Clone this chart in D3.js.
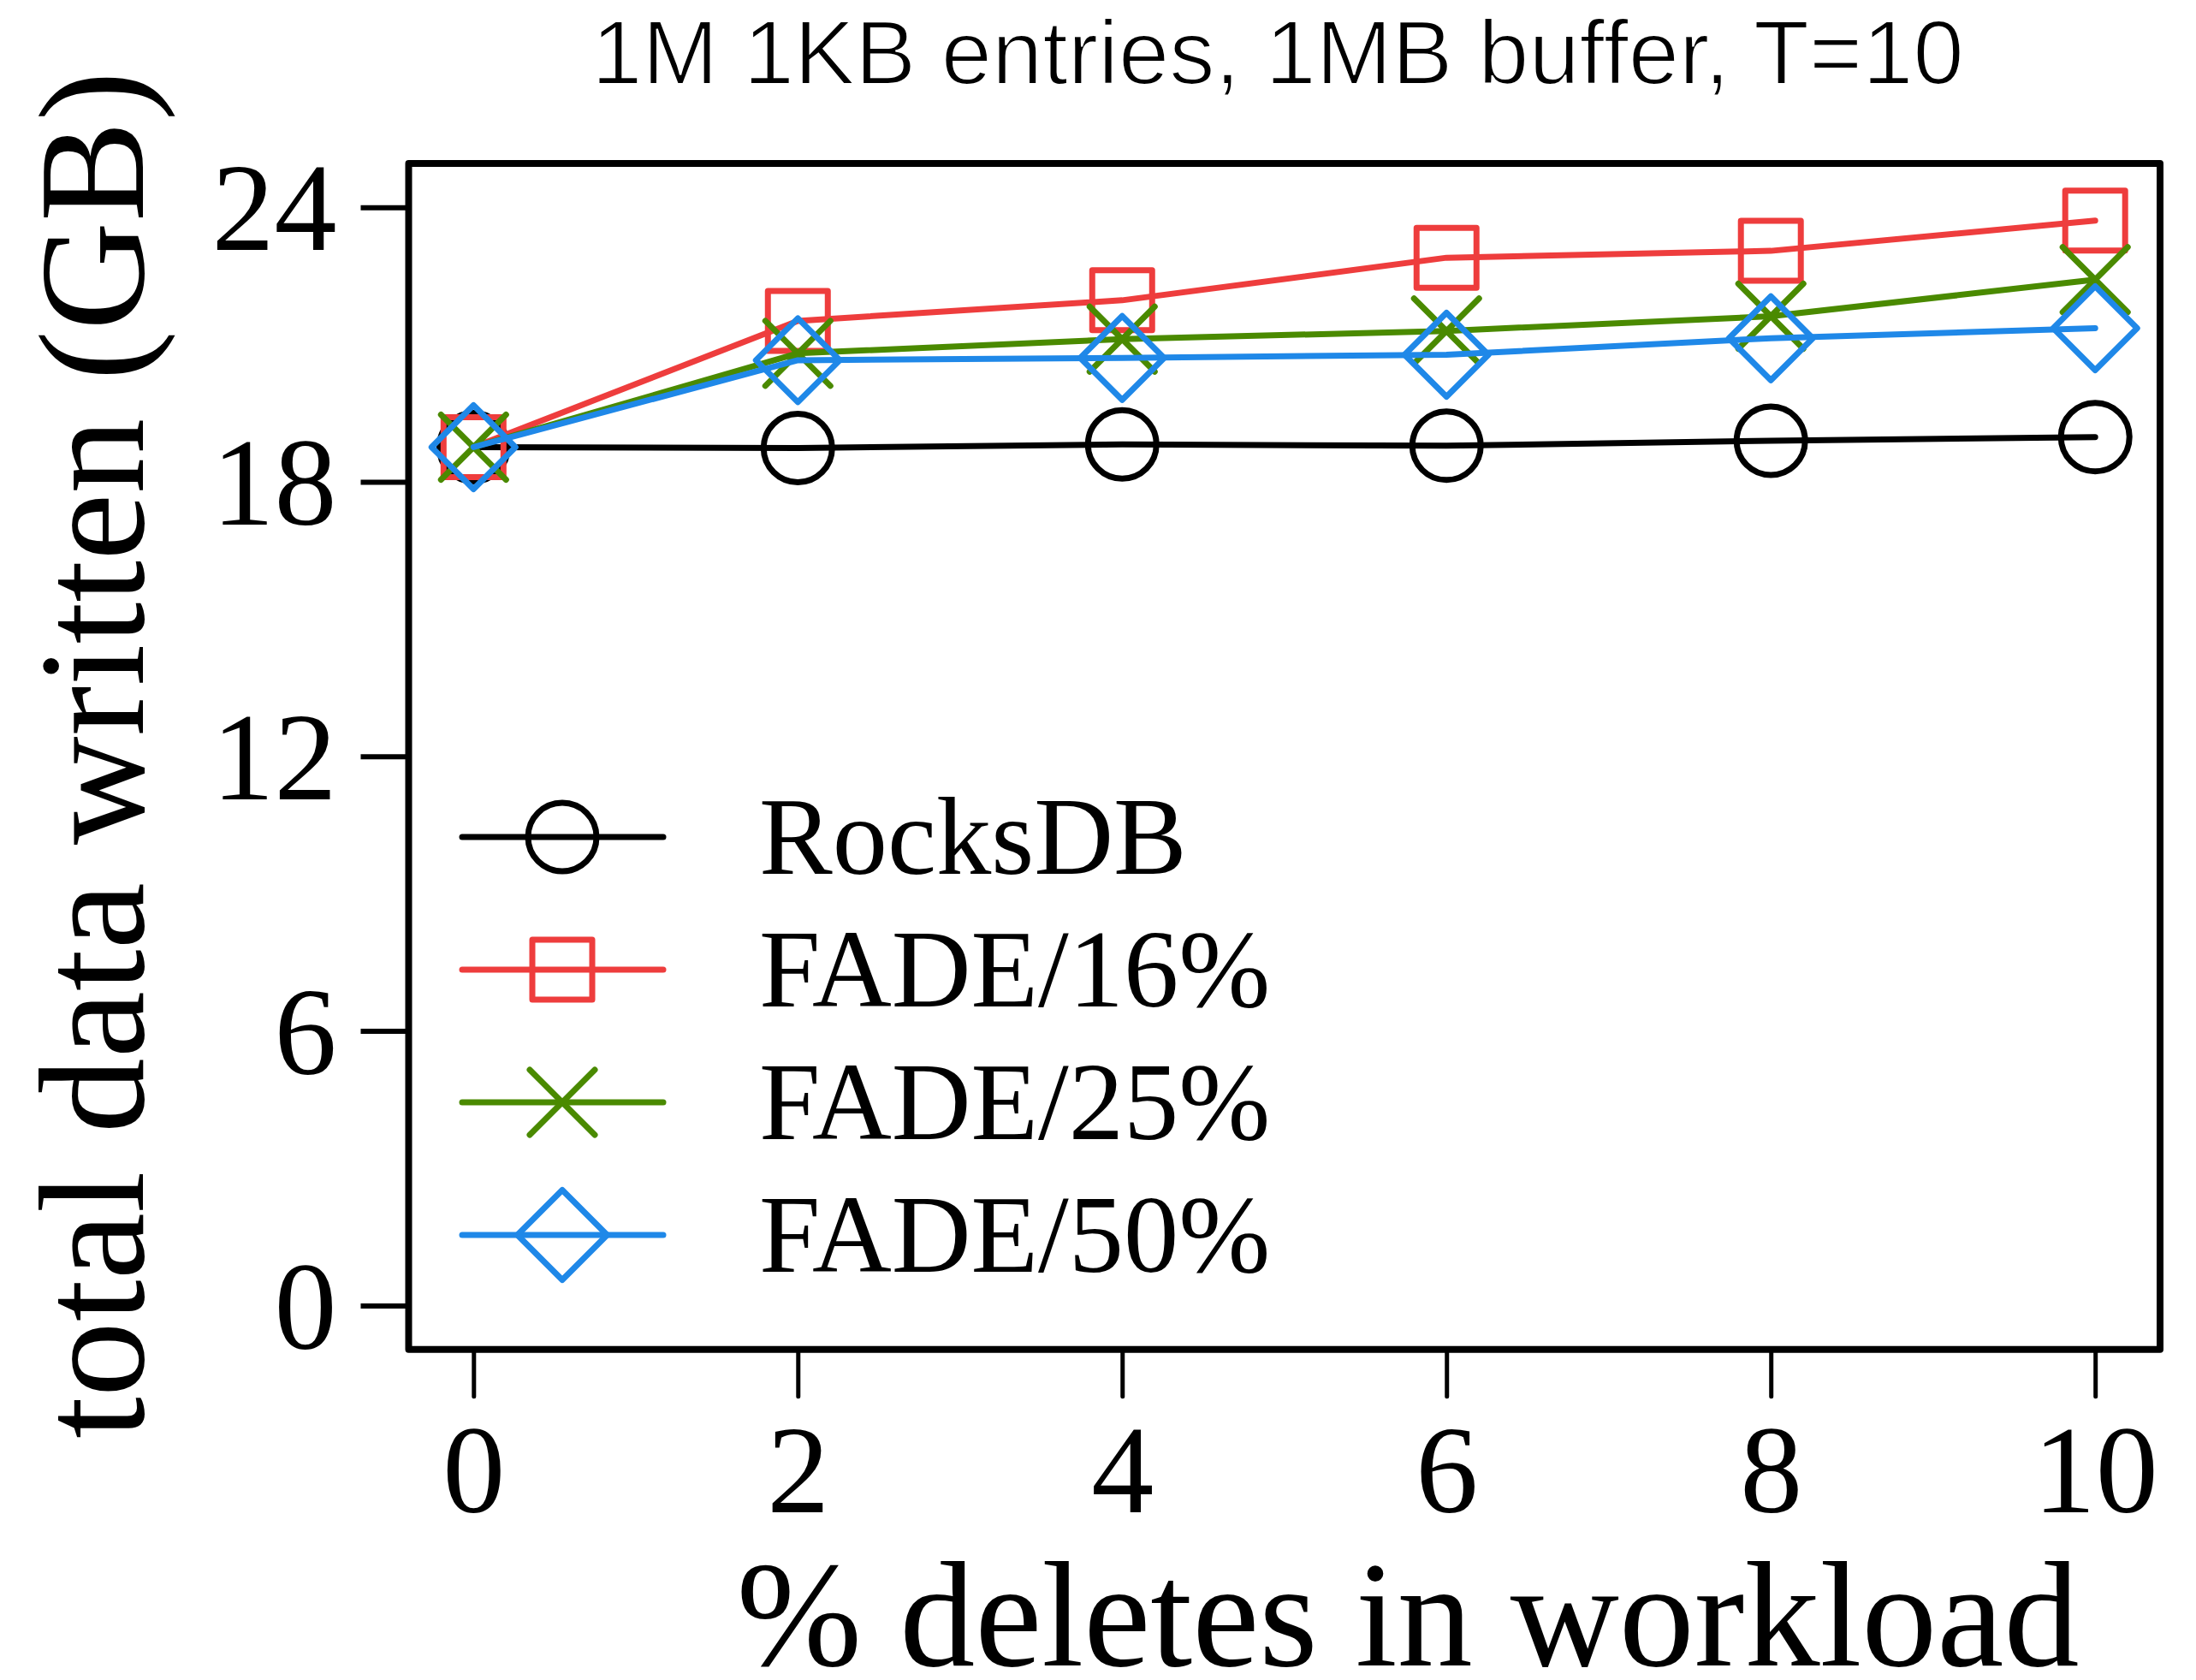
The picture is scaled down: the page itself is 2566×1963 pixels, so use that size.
<!DOCTYPE html>
<html>
<head>
<meta charset="utf-8">
<script src="https://cdn.jsdelivr.net/npm/d3@7"></script>
<style>
  html, body { margin: 0; padding: 0; background: #ffffff; }
  svg { display: block; }
</style>
</head>
<body>
<svg id="chart" width="2566" height="1963"></svg>
<script>
// Percentage of deletes in the workload (x axis)
const deletePct = [0, 2, 4, 6, 8, 10];

// Total data written in GB, one array per engine configuration
const rocksdb  = [18.76, 18.74, 18.82, 18.79, 18.90, 18.98];
const fade16   = [18.76, 21.52, 21.97, 22.90, 23.05, 23.71];
const fade25   = [18.76, 20.81, 21.12, 21.30, 21.62, 22.42];
const fade50   = [18.76, 20.66, 20.71, 20.78, 21.14, 21.36];

const seriesNames = ["RocksDB", "FADE/16%", "FADE/25%", "FADE/50%"];
const seriesColors = ["#000000", "#ee3d3d", "#4a8a00", "#1f88e8"];
const seriesShapes = ["circle", "square", "cross", "diamond"];

const xTicks = [0, 2, 4, 6, 8, 10];
const yTicks = [0, 6, 12, 18, 24];

const chartTitle = "1M 1KB entries, 1MB buffer, T=10";
const xTitle = "% deletes in workload";
const yTitle = "total data written (GB)";

const series = seriesNames.map((name, i) => ({
  name,
  color: seriesColors[i],
  shape: seriesShapes[i],
  values: [rocksdb, fade16, fade25, fade50][i]
}));

const svg = d3.select("#chart");
const serif = "'Liberation Serif', 'Times New Roman', Times, serif";
const sans = "'Liberation Sans', Arial, Helvetica, sans-serif";

// Plot frame in pixels
const frame = { left: 477.5, right: 2524, top: 191, bottom: 1576.7 };

// Ranges padded by 4% on each side
const x = d3.scaleLinear().domain([-0.4, 10.4]).range([frame.left, frame.right]);
const y = d3.scaleLinear().domain([-0.96, 24.96]).range([frame.bottom, frame.top]);

// Axes
const yAxis = d3.axisLeft(y).tickValues(yTicks).tickSizeInner(56).tickSizeOuter(0).tickPadding(28);
const gy = svg.append("g").attr("transform", `translate(${frame.left},0)`).call(yAxis);
gy.select(".domain").remove();
gy.selectAll(".tick line").attr("stroke", "#000").attr("stroke-width", 6);
gy.selectAll(".tick text")
  .attr("font-family", serif).attr("font-size", 146).attr("fill", "#000")
  .attr("dy", "0.34em");

const xAxis = d3.axisBottom(x).tickValues(xTicks).tickSizeInner(55).tickSizeOuter(0).tickPadding(32);
const gx = svg.append("g").attr("transform", `translate(0,${frame.bottom})`).call(xAxis);
gx.select(".domain").remove();
gx.selectAll(".tick line").attr("stroke", "#000").attr("stroke-width", 5).attr("stroke-linecap", "round");
gx.selectAll(".tick text")
  .attr("font-family", serif).attr("font-size", 146).attr("fill", "#000")
  .attr("y", 190).attr("dy", 0);

// Frame around the plotting region
svg.append("rect")
  .attr("x", frame.left).attr("y", frame.top)
  .attr("width", frame.right - frame.left).attr("height", frame.bottom - frame.top)
  .attr("fill", "none").attr("stroke", "#000").attr("stroke-width", 8)
  .attr("stroke-linejoin", "round");

// Marker drawing
function drawMarker(g, shape, cx, cy, color, s) {
  const sw = 7;
  if (shape === "circle") {
    g.append("circle").attr("cx", cx).attr("cy", cy).attr("r", 40 * s)
      .attr("fill", "none").attr("stroke", color).attr("stroke-width", sw);
  } else if (shape === "square") {
    const h = 35 * s;
    g.append("rect").attr("x", cx - h).attr("y", cy - h).attr("width", 2 * h).attr("height", 2 * h)
      .attr("fill", "none").attr("stroke", color).attr("stroke-width", sw).attr("stroke-linejoin", "round");
  } else if (shape === "cross") {
    const h = 38 * s;
    g.append("path")
      .attr("d", `M${cx - h},${cy - h}L${cx + h},${cy + h}M${cx - h},${cy + h}L${cx + h},${cy - h}`)
      .attr("fill", "none").attr("stroke", color).attr("stroke-width", sw).attr("stroke-linecap", "round");
  } else if (shape === "diamond") {
    const h = 49 * s;
    g.append("path")
      .attr("d", `M${cx},${cy - h}L${cx + h},${cy}L${cx},${cy + h}L${cx - h},${cy}Z`)
      .attr("fill", "none").attr("stroke", color).attr("stroke-width", sw).attr("stroke-linejoin", "round");
  }
}

// Series: line through points plus markers
const line = d3.line().x((d, i) => x(deletePct[i])).y(d => y(d));
series.forEach(sr => {
  const g = svg.append("g").attr("class", "series");
  g.append("path").attr("d", line(sr.values))
    .attr("fill", "none").attr("stroke", sr.color).attr("stroke-width", 7)
    .attr("stroke-linecap", "round").attr("stroke-linejoin", "round");
  sr.values.forEach((v, i) => drawMarker(g, sr.shape, x(deletePct[i]), y(v), sr.color, 1));
});

// Legend
const legendRows = [978, 1133, 1288, 1443];
const legend = svg.append("g").attr("class", "legend");
series.forEach((sr, i) => {
  const ry = legendRows[i];
  legend.append("line").attr("x1", 540).attr("x2", 775).attr("y1", ry).attr("y2", ry)
    .attr("stroke", sr.color).attr("stroke-width", 7).attr("stroke-linecap", "round");
  drawMarker(legend, sr.shape, 657, ry, sr.color, sr.shape === "diamond" ? 1.07 : 1);
  legend.append("text").attr("x", 887).attr("y", ry + 43)
    .attr("font-family", serif).attr("font-size", 128.5).attr("fill", "#000")
    .text(sr.name);
});

// Titles
svg.append("text").attr("x", 1493).attr("y", 98).attr("text-anchor", "middle")
  .attr("font-family", sans).attr("font-size", 106.5).attr("fill", "#000")
  .attr("stroke", "#fff").attr("stroke-width", 2.2)
  .text(chartTitle);

svg.append("text").attr("x", 1645).attr("y", 1946).attr("text-anchor", "middle")
  .attr("font-family", serif).attr("font-size", 176).attr("fill", "#000")
  .text(xTitle);

svg.append("text").attr("transform", "translate(167,882) rotate(-90)").attr("text-anchor", "middle")
  .attr("font-family", serif).attr("font-size", 176).attr("fill", "#000")
  .text(yTitle);
</script>
</body>
</html>
